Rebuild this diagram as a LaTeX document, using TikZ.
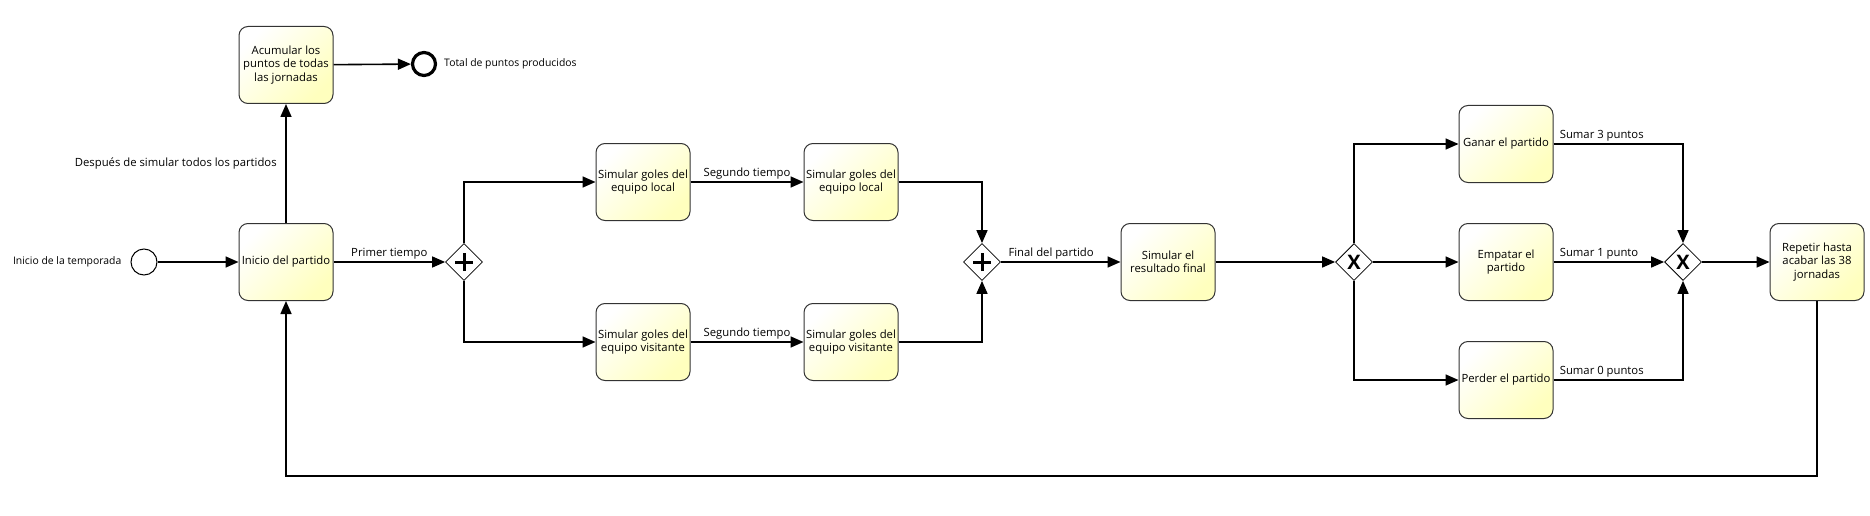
\documentclass[tikz,border=0pt]{standalone}
\usepackage{fontspec}
\setmainfont{Open Sans}
\usetikzlibrary{arrows.meta,shapes.geometric,positioning}
\definecolor{amarillo}{RGB}{255,255,190}
\begin{document}
\begin{tikzpicture}[x=1pt,y=-1pt,line width=1.6pt,>={Triangle[length=13pt,width=11pt]},
    font=\fontsize{11.3}{13.5}\selectfont,
    tarea/.style={draw=black!80,line width=1pt,rounded corners=9pt,minimum width=94pt,minimum height=77pt,
        align=center,inner sep=1pt,left color=white,right color=amarillo,shading angle=45},
    puerta/.style={diamond,draw,line width=0.8pt,fill=white,minimum width=37pt,minimum height=37pt,inner sep=0pt},
    paralela/.style={puerta,path picture={\draw[line width=3pt](path picture bounding box.center)
        +(-9pt,0)--+(9pt,0) +(0,-9pt)--+(0,9pt);}},
    exclusiva/.style={puerta,font=\fontsize{20}{20}\selectfont\bfseries},
    evento/.style={circle,draw,line width=1pt,minimum size=26pt,inner sep=0pt},
    eventofin/.style={evento,line width=3.2pt,minimum size=23pt},
    etiqueta/.style={font=\fontsize{10.4}{12}\selectfont},
    rotulo/.style={inner sep=1.5pt}]
    \useasboundingbox (0,0) rectangle (1870,516);
    % eventos
    \node[evento] (inicio) at (144,262) {};
    \node[etiqueta,left=5pt of inicio] (txtinicio) {Inicio de la temporada};
    \node[eventofin] (fin) at (424,64) {};
    \node[etiqueta,right=3pt of fin] (txtfin) {Total de puntos producidos};
    % tareas
    \node[tarea] (partido) at (286,262) {Inicio del partido};
    \node[tarea] (acumular) at (286,65) {Acumular los\\puntos de todas\\las jornadas};
    \node[tarea] (loc1) at (643,182) {Simular goles del\\equipo local};
    \node[tarea] (loc2) at (851,182) {Simular goles del\\equipo local};
    \node[tarea] (vis1) at (643,342) {Simular goles del\\equipo visitante};
    \node[tarea] (vis2) at (851,342) {Simular goles del\\equipo visitante};
    \node[tarea] (resultado) at (1168,262) {Simular el\\resultado final};
    \node[tarea] (ganar) at (1506,144) {Ganar el partido};
    \node[tarea] (empatar) at (1506,262) {Empatar el\\partido};
    \node[tarea] (perder) at (1506,380) {Perder el partido};
    \node[tarea] (repetir) at (1817,262) {Repetir hasta\\acabar las 38\\jornadas};
    % compuertas
    \node[paralela] (g1) at (464,262) {};
    \node[paralela] (g2) at (982,262) {};
    \node[exclusiva] (x1) at (1354,262) {X};
    \node[exclusiva] (x2) at (1683,262) {X};
    \coordinate (bucle) at (1000,476);
    % flujos
    \draw[->] (inicio) -- (partido);
    \draw[->] (partido) -- node[rotulo,left=7pt] (lbldespues) {Después de simular todos los partidos} (acumular);
    \draw[->] (acumular) -- (fin);
    \draw[->] (partido) -- node[rotulo,above] (lblprimer) {Primer tiempo} (g1);
    \draw[->] (g1) |- (loc1);
    \draw[->] (g1) |- (vis1);
    \draw[->] (loc1) -- node[rotulo,above] (lblseg1) {Segundo tiempo} (loc2);
    \draw[->] (vis1) -- node[rotulo,above] (lblseg2) {Segundo tiempo} (vis2);
    \draw[->] (loc2) -| (g2);
    \draw[->] (vis2) -| (g2);
    \draw[->] (g2) -- node[rotulo,above,pos=0.42] (lblfinal) {Final del partido} (resultado);
    \draw[->] (resultado) -- (x1);
    \draw[->] (x1) |- (ganar);
    \draw[->] (x1) -- (empatar);
    \draw[->] (x1) |- (perder);
    \draw[->] (ganar) -| node[rotulo,above right,pos=0,xshift=4pt] (lbl3) {Sumar 3 puntos} (x2);
    \draw[->] (empatar) -- node[rotulo,above right,pos=0,xshift=4pt] (lbl1) {Sumar 1 punto} (x2);
    \draw[->] (perder) -| node[rotulo,above right,pos=0,xshift=4pt] (lbl0) {Sumar 0 puntos} (x2);
    \draw[->] (x2) -- (repetir);
    \draw[->] (repetir) |- (bucle) -| (partido);
\end{tikzpicture}
\end{document}
